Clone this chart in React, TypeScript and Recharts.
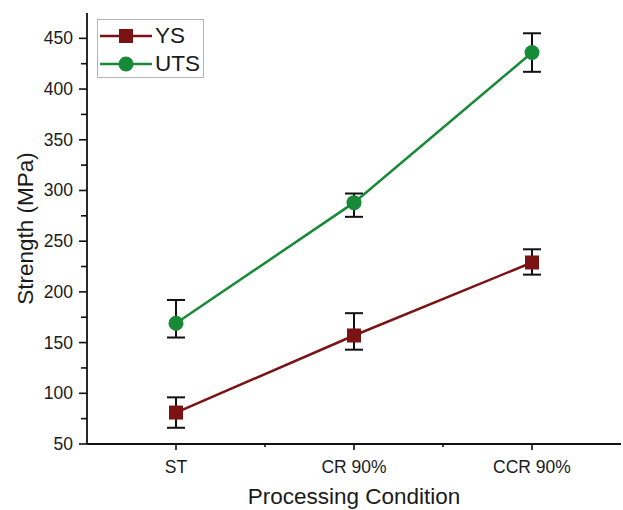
import { LineChart, Line, XAxis, YAxis, ErrorBar, Legend } from 'recharts';

const categories = ['ST', 'CR 90%', 'CCR 90%'];
const ysValues = [81, 157, 229];
const ysErrors: [number, number][] = [[15, 15], [14, 22], [12, 13]];
const utsValues = [169, 288, 436];
const utsErrors: [number, number][] = [[14, 23], [14, 9], [19, 19]];
const yTicks = [50, 75, 100, 125, 150, 175, 200, 225, 250, 275, 300, 325, 350, 375, 400, 425, 450];
const yMajorTicks = [50, 100, 150, 200, 250, 300, 350, 400, 450];
const xTicks = [0, 0.5, 1, 1.5, 2];

const YS_COLOR = '#7B1315';
const UTS_COLOR = '#178A38';
const TEXT_COLOR = '#1a1a1a';
const FONT = '"Liberation Sans", Arial, sans-serif';

const data = categories.map((name, i) => ({
  x: i,
  name,
  ys: ysValues[i],
  ysErr: ysErrors[i],
  uts: utsValues[i],
  utsErr: utsErrors[i],
}));

// eslint-disable-next-line @typescript-eslint/no-explicit-any
const SquareDot = (props: any) => {
  const { cx, cy } = props;
  if (cx == null || cy == null) return null;
  return <rect x={cx - 7} y={cy - 7} width={14} height={14} fill={YS_COLOR} />;
};

// eslint-disable-next-line @typescript-eslint/no-explicit-any
const CircleDot = (props: any) => {
  const { cx, cy } = props;
  if (cx == null || cy == null) return null;
  return <circle cx={cx} cy={cy} r={7.5} fill={UTS_COLOR} />;
};

// eslint-disable-next-line @typescript-eslint/no-explicit-any
const YTick = (props: any) => {
  const { x, y, payload } = props;
  const major = yMajorTicks.includes(payload.value);
  return (
    <g>
      <line x1={x - (major ? 8 : 6)} x2={x} y1={y} y2={y} stroke="#111" strokeWidth={1.6} />
      {major && (
        <text x={x - 14} y={y + 6} textAnchor="end" fontSize={17.5} fill={TEXT_COLOR} fontFamily={FONT}>
          {payload.value}
        </text>
      )}
    </g>
  );
};

// eslint-disable-next-line @typescript-eslint/no-explicit-any
const XTick = (props: any) => {
  const { x, y, payload } = props;
  const major = Number.isInteger(payload.value);
  return (
    <g>
      <line x1={x} x2={x} y1={y} y2={y + (major ? 6 : 3)} stroke="#111" strokeWidth={1.6} />
      {major && (
        <text x={x} y={y + 29} textAnchor="middle" fontSize={17.5} fill={TEXT_COLOR} fontFamily={FONT}>
          {categories[payload.value]}
        </text>
      )}
    </g>
  );
};

const LegendBox = () => (
  <div
    style={{
      border: '1px solid #b5b5b5',
      background: '#fff',
      width: 107,
      height: 59,
      boxSizing: 'border-box',
      fontFamily: FONT,
      fontSize: 22.5,
      color: TEXT_COLOR,
    }}
  >
    {[
      { label: 'YS', color: YS_COLOR, square: true },
      { label: 'UTS', color: UTS_COLOR, square: false },
    ].map((item, i) => (
      <div key={item.label} style={{ display: 'flex', alignItems: 'center', height: 28, marginTop: i === 0 ? 2 : 0 }}>
        <svg width={54} height={20} style={{ marginLeft: 2 }}>
          <line x1={0} x2={52} y1={10} y2={10} stroke={item.color} strokeWidth={2.5} />
          {item.square ? (
            <rect x={19} y={3} width={14} height={14} fill={item.color} />
          ) : (
            <circle cx={26} cy={10} r={7.5} fill={item.color} />
          )}
        </svg>
        <span style={{ marginLeft: 1, lineHeight: '22px' }}>{item.label}</span>
      </div>
    ))}
  </div>
);

export default function App() {
  return (
    <div style={{ position: 'absolute', left: 0, top: 0, background: '#fff' }}>
      <LineChart width={623} height={510} data={data} margin={{ top: 13, right: 2, left: 0, bottom: 0 }}>
        <XAxis
          xAxisId="bottom"
          dataKey="x"
          type="number"
          domain={[-0.5, 2.5]}
          ticks={xTicks}
          interval={0}
          height={66}
          tickSize={0}
          tickMargin={0}
          tickLine={false}
          tick={<XTick />}
          axisLine={{ stroke: '#111', strokeWidth: 1.8 }}
          label={{
            value: 'Processing Condition',
            position: 'insideBottom',
            offset: 6,
            style: { fontSize: 22.5, fill: TEXT_COLOR, fontFamily: FONT },
          }}
        />
        <XAxis
          xAxisId="top"
          dataKey="x"
          type="number"
          orientation="top"
          domain={[-0.5, 2.5]}
          height={0}
          tick={false}
          tickLine={false}
          axisLine={{ stroke: '#111', strokeWidth: 1.8 }}
        />
        <YAxis
          yAxisId="left"
          type="number"
          domain={[50, 475]}
          ticks={yTicks}
          interval={0}
          width={87}
          tickSize={0}
          tickMargin={0}
          tickLine={false}
          tick={<YTick />}
          axisLine={{ stroke: '#111', strokeWidth: 1.8 }}
          label={{
            value: 'Strength (MPa)',
            angle: -90,
            position: 'insideLeft',
            offset: 25,
            style: { textAnchor: 'middle', fontSize: 22.5, fill: TEXT_COLOR, fontFamily: FONT },
          }}
        />
        <YAxis
          yAxisId="right"
          type="number"
          orientation="right"
          domain={[50, 475]}
          width={0}
          tick={false}
          tickLine={false}
          axisLine={{ stroke: '#111', strokeWidth: 1.8 }}
        />
        <Legend
          layout="vertical"
          align="center"
          verticalAlign="middle"
          content={<LegendBox />}
          wrapperStyle={{ left: 97, top: 19, width: 107 }}
        />
        <Line
          xAxisId="bottom"
          yAxisId="left"
          dataKey="ys"
          name="YS"
          stroke={YS_COLOR}
          strokeWidth={2.5}
          dot={<SquareDot />}
          activeDot={false}
          isAnimationActive={false}
        >
          <ErrorBar dataKey="ysErr" direction="y" width={9} stroke="#111" strokeWidth={2} />
        </Line>
        <Line
          xAxisId="bottom"
          yAxisId="left"
          dataKey="uts"
          name="UTS"
          stroke={UTS_COLOR}
          strokeWidth={2.5}
          dot={<CircleDot />}
          activeDot={false}
          isAnimationActive={false}
        >
          <ErrorBar dataKey="utsErr" direction="y" width={9} stroke="#111" strokeWidth={2} />
        </Line>
      </LineChart>
    </div>
  );
}
